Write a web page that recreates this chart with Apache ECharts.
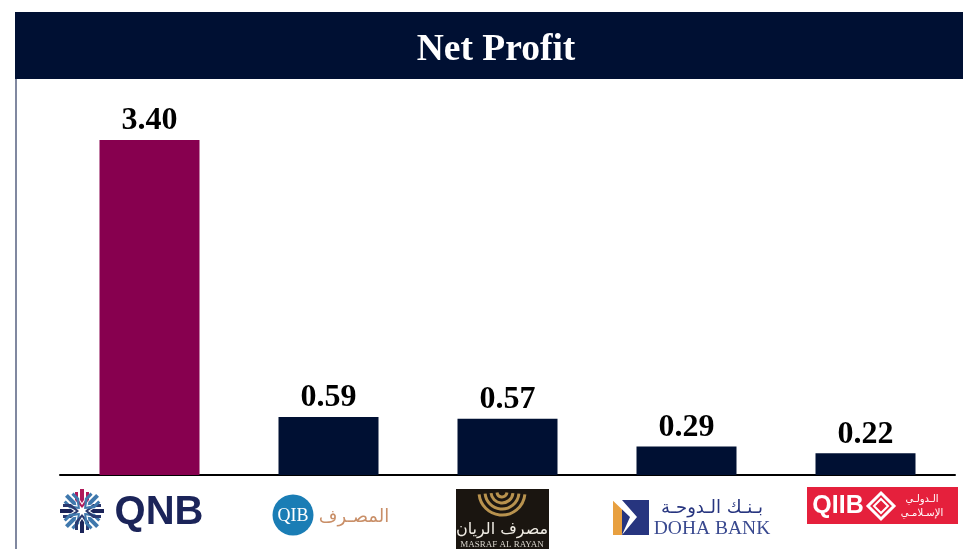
<!DOCTYPE html>
<html>
<head>
<meta charset="utf-8">
<title>Net Profit</title>
<script src="https://cdn.jsdelivr.net/npm/echarts@6/dist/echarts.min.js"></script>
<style>
html,body{margin:0;padding:0;background:#fff}
#chart{width:963px;height:549px}
</style>
</head>
<body>
<div id="chart"></div>
<script>
const banks = ['QNB', 'QIB', 'Masraf Al Rayan', 'Doha Bank', 'QIIB']
const profit = [3.40, 0.59, 0.57, 0.29, 0.22]
const barColors = ['#87004f', '#001033', '#001033', '#001033', '#001033']

const navy = '#001033'
const serif = '"Liberation Serif", serif'

function label(x, y, text, size, color, extra) {
    return {type: 'text', x, y, silent: true, style: Object.assign({
        text, fill: color, fontSize: size, fontFamily: '"Liberation Sans", sans-serif',
        align: 'center', verticalAlign: 'middle'
    }, extra || {})}
}
function box(x, y, w, h, color) {
    return {type: 'rect', shape: {x, y, width: w, height: h}, style: {fill: color}, silent: true}
}

// QNB star, eight chevron arms around the middle
function qnbLogo() {
    const out = []
    for (let i = 0; i < 8; i++) {
        out.push({
            type: 'group', x: 82, y: 511, rotation: i * Math.PI / 4, silent: true,
            children: [
                {type: 'polygon', shape: {points: [[-2, -22], [2, -22], [2, -11], [0, -8], [-2, -11]]},
                    style: {fill: i === 0 ? '#b01a5a' : (i % 2 ? '#3f78ad' : '#1b2459')}},
                {type: 'polygon', shape: {points: [[-7, -19], [-4, -19], [-4, -12], [0, -6], [4, -12], [4, -19], [7, -19], [7, -11], [0, -3], [-7, -11]]},
                    style: {fill: i === 0 ? '#b01a5a' : (i % 2 ? '#3f78ad' : '#2a3a70')}}
            ]
        })
    }
    out.push(label(159, 513, 'QNB', 40, '#1b2459', {fontWeight: 'bold'}))
    return out
}

function qibLogo() {
    return [
        {type: 'circle', shape: {cx: 293, cy: 515, r: 20.5}, silent: true, style: {fill: '#1a7db5'}},
        label(293, 516, 'QIB', 18, '#fff', {fontFamily: serif}),
        label(354, 517, 'المصـرف', 18, '#c98f68', {fontFamily: 'DejaVu Sans'})
    ]
}

function rayanLogo() {
    const out = [box(456, 489, 93, 60, '#1a1510')]
    ;[23, 17, 11, 5].forEach(r => {
        out.push({
            type: 'arc', silent: true,
            shape: {cx: 502, cy: 492, r, startAngle: 0.1, endAngle: Math.PI - 0.1},
            style: {stroke: '#b8924e', lineWidth: 3, fill: 'none'}
        })
    })
    out.push(label(502, 530, 'مصرف الريان', 16, '#f0ece4', {fontFamily: 'DejaVu Sans'}))
    out.push(label(502, 545, 'MASRAF AL RAYAN', 9, '#d8d4cc', {fontFamily: serif}))
    return out
}

function dohaLogo() {
    return [
        box(613, 500, 9, 35, '#e8a040'),
        box(622, 500, 27, 35, '#27357f'),
        {type: 'polygon', silent: true, shape: {points: [[608, 496], [622, 500], [637, 517], [622, 535], [630, 517]]}, style: {fill: '#fff'}},
        label(712, 508, 'بـنـك الـدوحـة', 18, '#27357f', {fontFamily: 'DejaVu Sans'}),
        label(712, 529, 'DOHA BANK', 19.5, '#3a4a90', {fontFamily: serif})
    ]
}

function qiibLogo() {
    return [
        box(807, 487, 151, 37, '#e5203c'),
        label(838, 506, 'QIIB', 25, '#fff', {fontWeight: 'bold'}),
        {type: 'polygon', silent: true, shape: {points: [[881, 493], [894, 506], [881, 519], [868, 506]]}, style: {fill: 'none', stroke: '#fff', lineWidth: 3}},
        {type: 'polygon', silent: true, shape: {points: [[881, 499], [888, 506], [881, 513], [874, 506]]}, style: {fill: 'none', stroke: '#fff', lineWidth: 2}},
        label(922, 499, 'الـدولـي', 10, '#fff', {fontFamily: 'DejaVu Sans'}),
        label(922, 513, 'الإسـلامـي', 10, '#fff', {fontFamily: 'DejaVu Sans'})
    ]
}

const chart = echarts.init(document.getElementById('chart'))
chart.setOption({
    animation: false,
    backgroundColor: '#fff',
    grid: {left: 60, right: 8, top: 81, bottom: 74},
    xAxis: {
        type: 'category',
        data: banks,
        axisLine: {lineStyle: {color: '#000', width: 2}},
        axisTick: {show: false},
        axisLabel: {show: false}
    },
    yAxis: {type: 'value', min: 0, max: 4, show: false, splitLine: {show: false}},
    series: [{
        type: 'bar',
        barWidth: 100,
        data: profit.map((v, i) => ({value: v, itemStyle: {color: barColors[i]}})),
        label: {
            show: true,
            position: 'top',
            distance: 3,
            formatter: p => p.value.toFixed(2),
            color: '#000',
            fontFamily: serif,
            fontWeight: 'bold',
            fontSize: 32
        }
    }],
    graphic: [
        box(15, 12, 948, 67, navy),
        box(15, 79, 2, 470, '#8088a0'),
        label(496, 50, 'Net Profit', 37.5, '#fff', {fontFamily: serif, fontWeight: 'bold'}),
        ...qnbLogo(),
        ...qibLogo(),
        ...rayanLogo(),
        ...dohaLogo(),
        ...qiibLogo()
    ]
})
</script>
</body>
</html>
